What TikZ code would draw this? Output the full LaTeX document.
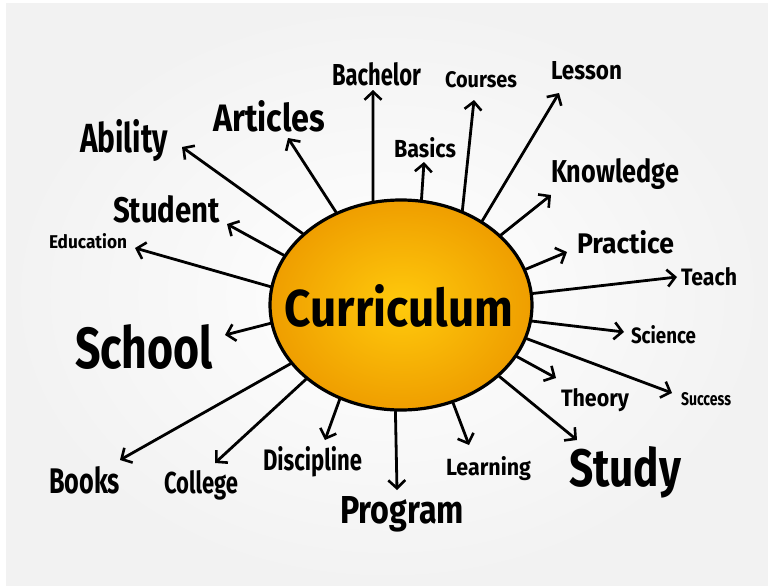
\documentclass[tikz,border=0pt]{standalone}
\usepackage{fontspec}
\setmainfont{Fira Sans}
\usepackage{graphicx}
\usetikzlibrary{shapes.geometric,arrows.meta}
% word squeezed into a box of given width and height (pt)
\newcommand{\hand}[3]{\resizebox{#1pt}{#2pt}{\bfseries #3}}
\definecolor{sunin}{HTML}{FFCA0C}
\definecolor{sunout}{HTML}{EF9E00}
\definecolor{paper}{HTML}{F2F2F2}

\begin{document}
\begin{tikzpicture}[x=1pt,y=-1pt,
  lbl/.style={inner sep=0pt, outer sep=0pt, anchor=base west},
  ray/.style={line width=2.8pt, line cap=round,
    -{Straight Barb[length=8pt,width=17pt,line width=2.6pt]}},
  hub/.style={ellipse, draw=black, line width=3.2pt, minimum width=262pt,
    minimum height=210pt, inner sep=0pt, inner color=sunin, outer color=sunout}]

\useasboundingbox (0,0) rectangle (768,586);
\fill[white] (0,0) rectangle (768,586);
\shade[inner color=white, outer color=paper] (6,4) rectangle (768,586);

% central hub
\node[hub] (curr) at (401,305) {};
\node[inner sep=0pt] (title) at (399,306) {\hand{228}{42}{Curriculum}};

% words around the hub
\node[lbl] (ability)    at (80,152)  {\hand{88}{33}{Ability}};
\node[lbl] (articles)   at (213,131) {\hand{112}{31}{Articles}};
\node[lbl] (student)    at (113,222) {\hand{107}{27}{Student}};
\node[lbl] (education)  at (49,248)  {\hand{78}{15}{Education}};
\node[lbl] (bachelor)   at (332,85)  {\hand{89}{23}{Bachelor}};
\node[lbl] (courses)    at (445,88)  {\hand{72}{16}{Courses}};
\node[lbl] (lesson)     at (551,80)  {\hand{71}{18}{Lesson}};
\node[lbl] (basics)     at (394,157) {\hand{62}{20}{Basics}};
\node[lbl] (knowledge)  at (551,182) {\hand{128}{24}{Knowledge}};
\node[lbl] (practice)   at (577,253) {\hand{97}{23}{Practice}};
\node[lbl] (teach)      at (681,285) {\hand{56}{18}{Teach}};
\node[lbl] (science)    at (631,343) {\hand{65}{18}{Science}};
\node[lbl] (success)    at (681,405) {\hand{50}{13}{Success}};
\node[lbl] (theory)     at (561,406) {\hand{68}{18}{Theory}};
\node[lbl] (study)      at (569,486) {\hand{112}{40}{Study}};
\node[lbl] (learning)   at (446,475) {\hand{85}{19}{Learning}};
\node[lbl] (program)    at (340,523) {\hand{124}{27}{Program}};
\node[lbl] (discipline) at (263,470) {\hand{99}{24}{Discipline}};
\node[lbl] (college)    at (164,493) {\hand{74}{23}{College}};
\node[lbl] (books)      at (49,493)  {\hand{71}{27}{Books}};
\node[lbl] (school)     at (75,368)  {\hand{138}{44}{School}};

% arrow tips just short of each word
\coordinate (tAbility)    at (182,147);
\coordinate (tArticles)   at (288,138);
\coordinate (tStudent)    at (227,224);
\coordinate (tEducation)  at (135,248);
\coordinate (tBachelor)   at (373,90);
\coordinate (tBasics)     at (424,162);
\coordinate (tCourses)    at (474,100);
\coordinate (tLesson)     at (559,93);
\coordinate (tKnowledge)  at (551,195);
\coordinate (tPractice)   at (567,252);
\coordinate (tTeach)      at (677,277);
\coordinate (tScience)    at (624,332);
\coordinate (tSuccess)    at (672,393);
\coordinate (tTheory)     at (556,378);
\coordinate (tStudy)      at (577,440);
\coordinate (tLearning)   at (469,445);
\coordinate (tProgram)    at (397,490);
\coordinate (tDiscipline) at (325,440);
\coordinate (tCollege)    at (215,463);
\coordinate (tBooks)      at (120,460);
\coordinate (tSchool)     at (225,335);

% rays from the hub
\draw[ray] (curr.144.1)  -- (tAbility);
\draw[ray] (curr.125.6)  -- (tArticles);
\draw[ray] (curr.157.5)  -- (tStudent);
\draw[ray] (curr.172.2)  -- (tEducation);
\draw[ray] (curr.105.4)  -- (tBachelor);
\draw[ray] (curr.79.2)   -- (tBasics);
\draw[ray] (curr.57.7)   -- (tCourses);
\draw[ray] (curr.46)     -- (tLesson);
\draw[ray] (curr.35.5)   -- (tKnowledge);
\draw[ray] (curr.16.8)   -- (tPractice);
\draw[ray] (curr.5.2)    -- (tTeach);
\draw[ray] (curr.-7.5)   -- (tScience);
\draw[ray] (curr.-15.5)  -- (tSuccess);
\draw[ray] (curr.-24.6)  -- (tTheory);
\draw[ray] (curr.-36.1)  -- (tStudy);
\draw[ray] (curr.-62)    -- (tLearning);
\draw[ray] (curr.-93.3)  -- (tProgram);
\draw[ray] (curr.-123.1) -- (tDiscipline);
\draw[ray] (curr.-142.5) -- (tCollege);
\draw[ray] (curr.-152.2) -- (tBooks);
\draw[ray] (curr.-172.6) -- (tSchool);
\end{tikzpicture}
\end{document}
